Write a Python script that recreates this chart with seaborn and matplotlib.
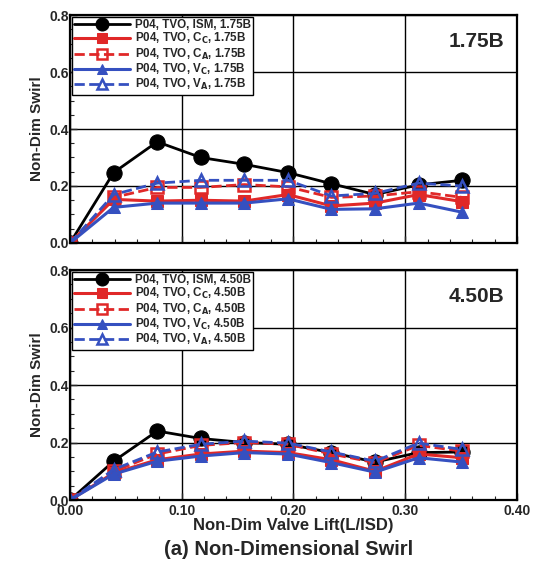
import numpy as np
import pandas as pd
import matplotlib
matplotlib.use("Agg")
import matplotlib.pyplot as plt
import seaborn as sns
from matplotlib.ticker import MultipleLocator

# Data
lift = [0.0, 0.039, 0.078, 0.117, 0.156, 0.195, 0.234, 0.273, 0.312, 0.351]

ism_175 = [0.0, 0.247, 0.355, 0.300, 0.276, 0.247, 0.208, 0.170, 0.204, 0.220]
cc_175 = [0.0, 0.153, 0.147, 0.150, 0.147, 0.170, 0.130, 0.140, 0.170, 0.145]
ca_175 = [0.0, 0.160, 0.195, 0.195, 0.205, 0.197, 0.160, 0.165, 0.180, 0.160]
vc_175 = [0.0, 0.125, 0.140, 0.140, 0.140, 0.155, 0.118, 0.120, 0.140, 0.108]
va_175 = [0.0, 0.170, 0.210, 0.220, 0.220, 0.220, 0.165, 0.174, 0.210, 0.200]

ism_450 = [0.0, 0.135, 0.240, 0.214, 0.200, 0.194, 0.165, 0.132, 0.165, 0.167]
cc_450 = [0.0, 0.094, 0.140, 0.160, 0.170, 0.165, 0.140, 0.100, 0.160, 0.147]
ca_450 = [0.0, 0.100, 0.160, 0.190, 0.200, 0.194, 0.160, 0.130, 0.190, 0.170]
vc_450 = [0.0, 0.090, 0.135, 0.153, 0.165, 0.160, 0.130, 0.097, 0.147, 0.132]
va_450 = [0.0, 0.106, 0.167, 0.194, 0.205, 0.198, 0.167, 0.135, 0.198, 0.176]

cases = ["1.75B", "4.50B"]
series_names = ["ISM", "C$_{\\mathbf{C}}$", "C$_{\\mathbf{A}}$", "V$_{\\mathbf{C}}$", "V$_{\\mathbf{A}}$"]
panel_data = [[ism_175, cc_175, ca_175, vc_175, va_175],
              [ism_450, cc_450, ca_450, vc_450, va_450]]

red = "#e02828"
blue = "#3550c0"
styles = [
    dict(color="black", marker="o", linestyle="-", markersize=11, markerfacecolor="black",
         markeredgecolor="black", linewidth=2.0),
    dict(color=red, marker="s", linestyle="-", markersize=8.5, markerfacecolor=red,
         markeredgecolor=red, linewidth=2.2),
    dict(color=red, marker="s", linestyle="--", markersize=8.5, markerfacecolor="none",
         markeredgecolor=red, markeredgewidth=1.8, linewidth=2.0),
    dict(color=blue, marker="^", linestyle="-", markersize=8.5, markerfacecolor=blue,
         markeredgecolor=blue, linewidth=2.2),
    dict(color=blue, marker="^", linestyle="--", markersize=8.5, markerfacecolor="none",
         markeredgecolor=blue, markeredgewidth=1.8, linewidth=2.0),
]

sns.set_style("white")
plt.rcParams["font.family"] = ["Liberation Sans", "DejaVu Sans"]
plt.rcParams["font.weight"] = "bold"
plt.rcParams["mathtext.default"] = "bf"

fig = plt.figure(figsize=(5.39, 5.75), dpi=100)
ax_top = fig.add_axes([0.130, 0.5774, 0.829, 0.3965])
ax_bot = fig.add_axes([0.130, 0.1304, 0.829, 0.400])

for ax, case, vals in zip([ax_top, ax_bot], cases, panel_data):
    for name, y, st in zip(series_names, vals, styles):
        df = pd.DataFrame({"lift": lift, "swirl": y})
        sns.lineplot(data=df, x="lift", y="swirl", ax=ax,
                     label=f"P04, TVO, {name}, {case}", legend=False, **st)
    ax.set_xlim(0, 0.4)
    ax.set_ylim(0, 0.8)
    ax.xaxis.set_major_locator(MultipleLocator(0.1))
    ax.xaxis.set_minor_locator(MultipleLocator(0.02))
    ax.yaxis.set_major_locator(MultipleLocator(0.2))
    ax.yaxis.set_minor_locator(MultipleLocator(0.05))
    ax.grid(True, which="major", color="black", linewidth=1.0)
    ax.set_axisbelow(True)
    ax.tick_params(which="both", direction="in", bottom=True, left=True, labelsize=10)
    ax.tick_params(axis="y", pad=1)
    ax.tick_params(axis="x", pad=3)
    ax.tick_params(which="major", length=5, width=1)
    ax.tick_params(which="minor", length=3, width=0.8)
    for sp in ax.spines.values():
        sp.set_color("black")
        sp.set_linewidth(1.6)
    ax.set_yticks([0.0, 0.2, 0.4, 0.6, 0.8])
    ax.set_yticklabels(["0.0", "0.2", "0.4", "0.6", "0.8"], fontweight="bold")
    ax.set_ylabel("Non-Dim Swirl", fontsize=11, fontweight="bold", labelpad=4)
    ax.text(0.91, 0.885, case, transform=ax.transAxes, ha="center", va="center",
            fontsize=15, fontweight="bold")
    handles = [ln for ln in ax.get_lines() if not ln.get_label().startswith("_")]
    leg = ax.legend(handles=handles, loc="upper left", fontsize=8.4, handlelength=4.8,
                    borderpad=0.2, labelspacing=0.02, handletextpad=0.4, markerscale=0.85,
                    borderaxespad=0.15, fancybox=False, framealpha=1, edgecolor="black")
    leg.get_frame().set_linewidth(1.0)
    for t in leg.get_texts():
        t.set_fontweight("bold")

ax_top.set_xlabel("")
ax_top.set_xticklabels([])
ax_bot.set_xticks([0.0, 0.1, 0.2, 0.3, 0.4])
ax_bot.set_xticklabels(["0.00", "0.10", "0.20", "0.30", "0.40"], fontweight="bold")
ax_bot.set_xlabel("Non-Dim Valve Lift(L/ISD)", fontsize=12, fontweight="bold", labelpad=0)

fig.text(0.535, 0.045, "(a) Non-Dimensional Swirl", ha="center", va="center",
         fontsize=14.5, fontweight="bold")

fig.savefig("out.png", dpi=100)
